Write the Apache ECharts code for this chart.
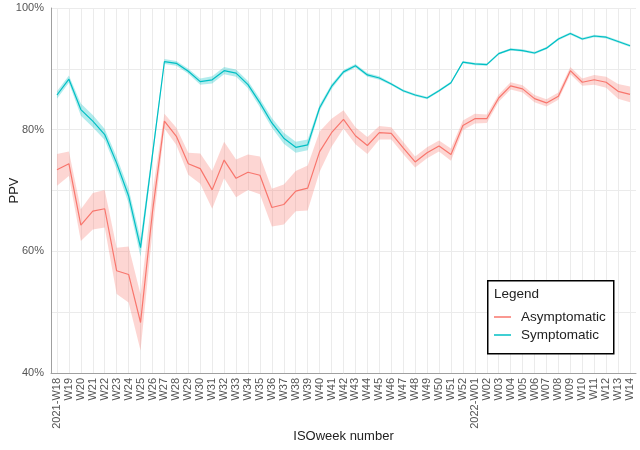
<!DOCTYPE html>
<html>
<head>
<meta charset="utf-8">
<script src="https://cdn.jsdelivr.net/npm/echarts@6/dist/echarts.min.js"></script>
<style>html,body{margin:0;padding:0;background:#fff}#c{width:640px;height:450px}</style>
</head>
<body>
<div id="c"></div>
<script>
var weeks = ['2021-W18','W19','W20','W21','W22','W23','W24','W25','W26','W27','W28','W29','W30','W31','W32','W33','W34','W35','W36','W37','W38','W39','W40','W41','W42','W43','W44','W45','W46','W47','W48','W49','W50','W51','W52','2022-W01','W02','W03','W04','W05','W06','W07','W08','W09','W10','W11','W12','W13','W14'];
var asymptomatic = [73.4, 74.4, 64.3, 66.6, 67.0, 56.8, 56.2, 48.3, 66.5, 81.4, 78.9, 74.4, 73.6, 70.1, 75.0, 72.0, 73.0, 72.5, 67.2, 67.7, 69.9, 70.4, 76.4, 79.5, 81.7, 79.0, 77.4, 79.5, 79.4, 77.0, 74.7, 76.2, 77.3, 75.9, 80.7, 81.8, 81.8, 85.2, 87.2, 86.7, 85.1, 84.4, 85.5, 89.7, 87.8, 88.2, 87.8, 86.3, 85.8];
var asymptomaticCI = [2.6, 2.0, 2.6, 3.0, 3.1, 3.8, 4.6, 4.6, 3.2, 1.2, 1.4, 1.8, 2.5, 3.1, 3.0, 3.1, 2.9, 3.1, 3.1, 3.3, 3.3, 3.7, 3.3, 2.3, 1.5, 1.4, 1.4, 1.1, 1.0, 1.0, 0.9, 0.9, 0.9, 1.0, 0.8, 0.8, 0.7, 0.6, 0.6, 0.6, 0.6, 0.6, 0.6, 0.6, 0.6, 0.8, 0.9, 1.2, 1.3];
var symptomatic = [85.7, 88.3, 83.3, 81.4, 79.2, 74.5, 69.1, 60.6, 75.9, 91.2, 90.9, 89.6, 87.9, 88.2, 89.7, 89.3, 87.4, 84.4, 81.1, 78.6, 77.1, 77.5, 83.6, 87.1, 89.5, 90.5, 89.0, 88.5, 87.5, 86.4, 85.7, 85.2, 86.4, 87.7, 91.1, 90.8, 90.7, 92.5, 93.2, 93.0, 92.6, 93.4, 94.9, 95.8, 94.9, 95.4, 95.2, 94.5, 93.8];
var symptomaticCI = [0.6, 0.6, 1.0, 1.0, 0.9, 1.0, 1.2, 1.5, 0.8, 0.4, 0.4, 0.4, 0.5, 0.6, 0.6, 0.6, 0.6, 0.7, 0.8, 0.9, 0.9, 0.9, 0.5, 0.4, 0.3, 0.3, 0.3, 0.3, 0.2, 0.2, 0.2, 0.2, 0.2, 0.2, 0.2, 0.2, 0.2, 0.2, 0.2, 0.2, 0.2, 0.2, 0.2, 0.2, 0.2, 0.2, 0.2, 0.2, 0.2];
var yTicks = [40, 60, 80, 100];

var RED = '#F8766D', TEAL = '#00BFC4';
var FONT = 'Liberation Sans, Arial, sans-serif';

function lower(v, ci) { return v.map(function (x, i) { return +(x - ci[i]).toFixed(2); }); }
function width(ci) { return ci.map(function (c) { return +(2 * c).toFixed(2); }); }

function bandSeries(stackId, v, ci, fill) {
  return [
    { name: stackId + '_lo', type: 'line', stack: stackId, data: lower(v, ci), symbol: 'none',
      lineStyle: { opacity: 0 }, silent: true, z: 1 },
    { name: stackId + '_band', type: 'line', stack: stackId, data: width(ci), symbol: 'none',
      lineStyle: { opacity: 0 }, areaStyle: { color: fill, opacity: 1 }, silent: true, z: 1 }
  ];
}

var chart = echarts.init(document.getElementById('c'), null, { renderer: 'canvas' });
var series = []
  .concat(bandSeries('A', asymptomatic, asymptomaticCI, 'rgba(248,118,109,0.3)'))
  .concat(bandSeries('S', symptomatic, symptomaticCI, 'rgba(0,191,196,0.3)'))
  .concat([
    { name: 'Asymptomatic', type: 'line', data: asymptomatic, symbol: 'none', color: RED,
      lineStyle: { color: RED, width: 1.2 }, z: 3 },
    { name: 'Symptomatic', type: 'line', data: symptomatic, symbol: 'none', color: TEAL,
      lineStyle: { color: TEAL, width: 1.2 }, z: 3 }
  ]);

chart.setOption({
  animation: false,
  backgroundColor: '#fff',
  textStyle: { fontFamily: FONT },
  grid: { left: 51, right: 4, top: 8, bottom: 77, containLabel: false, outerBoundsMode: 'none' },
  xAxis: {
    type: 'category', data: weeks, boundaryGap: true,
    name: 'ISOweek number', nameLocation: 'middle', nameGap: 57, nameMoveOverlap: false,
    nameTextStyle: { fontSize: 13, color: '#222', fontFamily: FONT },
    axisLine: { show: true, lineStyle: { color: '#a0a0a0', width: 1 } },
    axisTick: { show: false, alignWithLabel: true },
    axisLabel: { interval: 0, rotate: 90, fontSize: 11, color: '#555', margin: 5, fontFamily: FONT },
    splitLine: { show: true, alignWithLabel: true, lineStyle: { color: '#ebebeb', width: 1 } }
  },
  yAxis: {
    type: 'value', min: 40, max: 100, interval: 10,
    name: 'PPV', nameLocation: 'middle', nameGap: 30, nameMoveOverlap: false,
    nameTextStyle: { fontSize: 13, color: '#222', fontFamily: FONT },
    axisLine: { show: true, lineStyle: { color: '#a0a0a0', width: 1 } },
    axisTick: { show: false },
    axisLabel: { fontSize: 11, color: '#555', margin: 7, fontFamily: FONT,
      formatter: function (v) { return yTicks.indexOf(v) >= 0 ? v + '%' : ''; } },
    splitLine: { show: true, lineStyle: { color: '#ebebeb', width: 1 } }
  },
  legend: {
    data: ['Asymptomatic', 'Symptomatic'], orient: 'vertical',
    left: 494, top: 310, padding: 0, itemGap: 4, itemWidth: 17, itemHeight: 1.5,
    icon: 'rect', selectedMode: false, z: 6,
    textStyle: { fontSize: 13.5, color: '#222', fontFamily: FONT, padding: [0, 0, 0, 5] }
  },
  graphic: [
    { type: 'rect', left: 487, top: 280, z: 4,
      shape: { width: 126, height: 73 },
      style: { fill: '#fff', stroke: '#000', lineWidth: 1.5 } },
    { type: 'text', left: 494, top: 287, z: 6,
      style: { text: 'Legend', fontSize: 13.5, fill: '#222', fontFamily: FONT } }
  ],
  series: series
});
</script>
</body>
</html>
